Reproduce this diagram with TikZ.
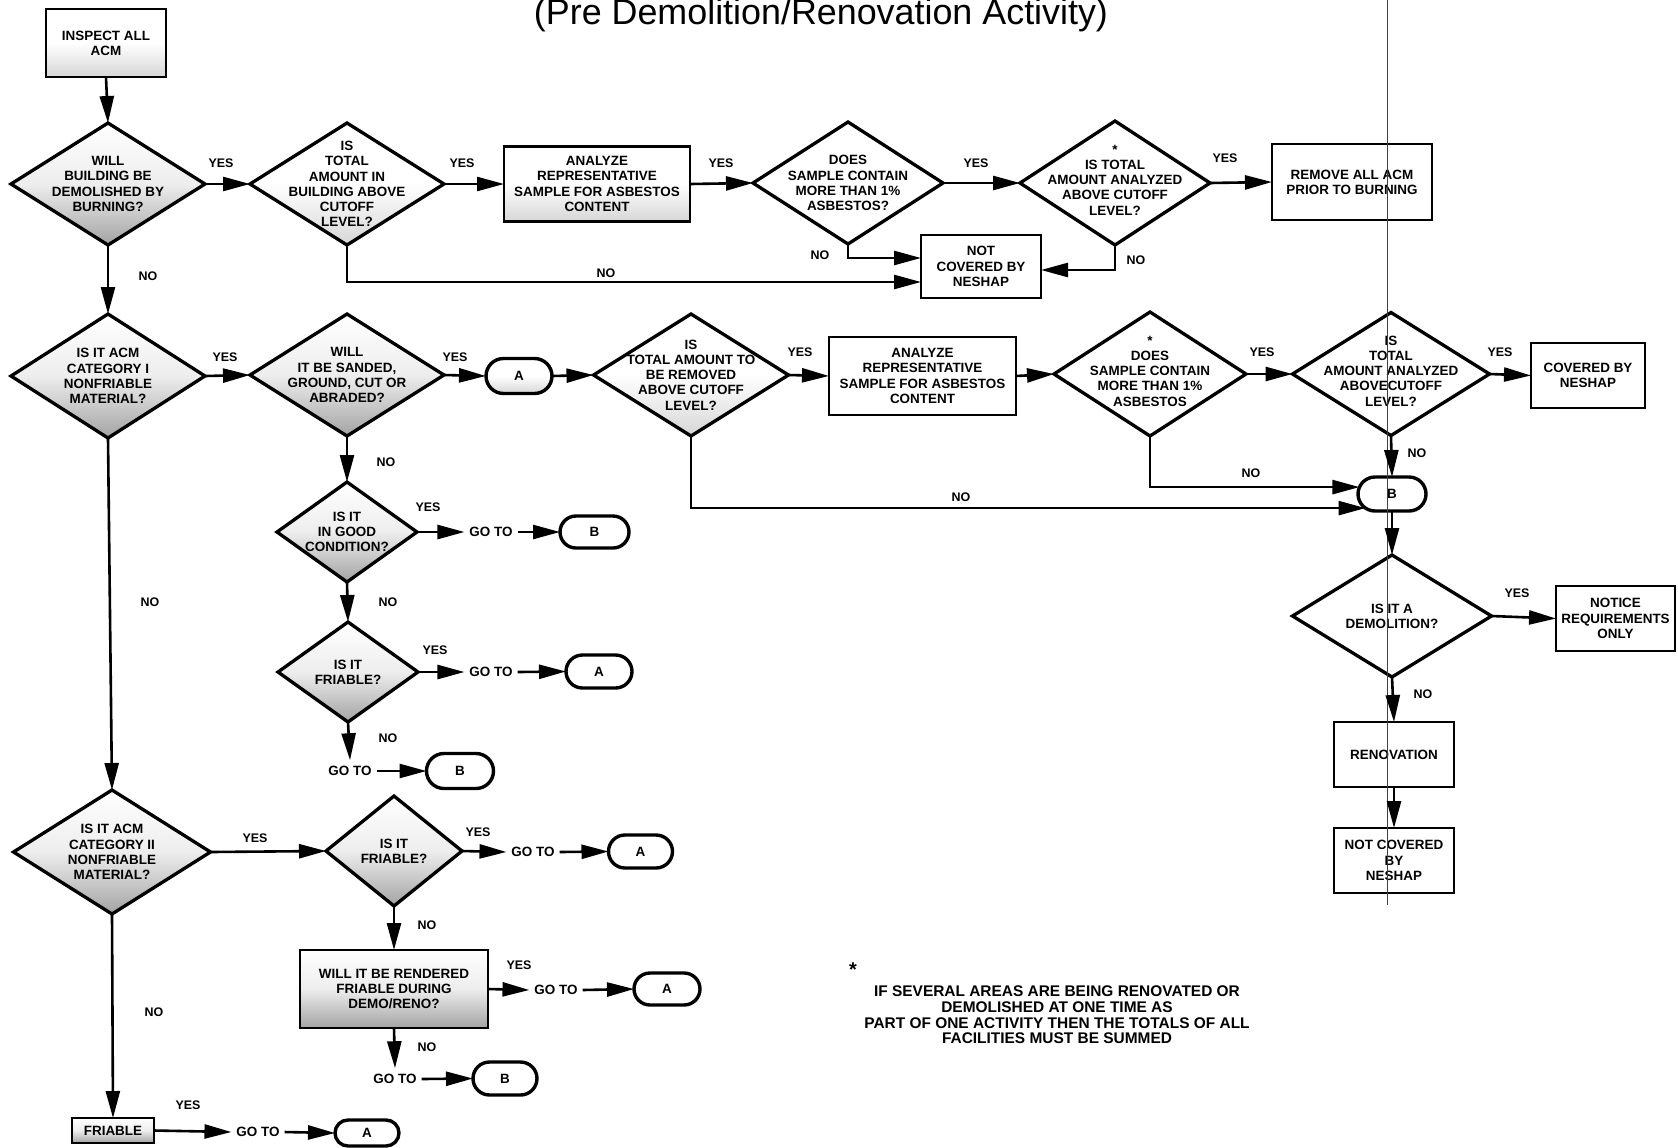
\documentclass[tikz,border=0pt]{standalone}
\usepackage{fontspec}
\setmainfont{Liberation Sans}
\usetikzlibrary{shapes.geometric,shapes.misc,arrows.meta}

\begin{document}
\begin{tikzpicture}[x=1bp,y=-1bp,
  every node/.style={font=\bfseries\fontsize{13.5}{15.3}\selectfont, inner sep=0pt, outer sep=0pt, align=center},
  dia/.style={draw, diamond, line width=3.3bp, line join=miter},
  box/.style={draw, rectangle, line width=2.8bp},
  term/.style={draw, rounded rectangle, line width=3.4bp, minimum width=66bp, minimum height=34bp},
  dtext/.style={font=\bfseries\fontsize{13.5}{15.3}\selectfont},
  goto/.style={inner xsep=5bp, inner ysep=6bp},
  lbl/.style={font=\bfseries\fontsize{12.5}{14}\selectfont},
  flow/.style={line width=2.6bp, -{Triangle[length=27bp,width=14bp]}},
  heavy/.style={top color=white, bottom color=black!36, middle color=black!7},
  light/.style={top color=white, bottom color=black!16, middle color=white},
]
\useasboundingbox (0,0) rectangle (1678,1147);

% title
\node[font=\mdseries\fontsize{36}{36}\selectfont, anchor=base] (title) at (821,24) {(Pre Demolition/Renovation Activity)};

% first row: demolition by burning
\node[box, light, minimum width=120bp, minimum height=68bp] (insp) at (106,43) {INSPECT ALL\\ACM};
\node[dia, heavy, minimum width=194bp, minimum height=122bp] (D1) at (108,184) {};
\node[dtext] (D1t) at (D1) {WILL\\BUILDING BE\\DEMOLISHED BY\\BURNING?};
\node[dia, light, minimum width=194bp, minimum height=122bp] (D2) at (347,184) {};
\node[dtext] (D2t) at (D2) {IS\\TOTAL\\AMOUNT IN\\BUILDING ABOVE\\CUTOFF\\LEVEL?};
\node[box, light, minimum width=186bp, minimum height=75bp] (AN1) at (597,184) {ANALYZE\\REPRESENTATIVE\\SAMPLE FOR ASBESTOS\\CONTENT};
\node[dia, minimum width=190bp, minimum height=122bp] (D3) at (848,183) {};
\node[dtext] (D3t) at (D3) {DOES\\SAMPLE CONTAIN\\MORE THAN 1\%\\ASBESTOS?};
\node[dia, minimum width=190bp, minimum height=124bp] (D4) at (1115,183) {};
\node[dtext] (D4t) at ([yshift=3bp]D4) {*\\IS TOTAL\\AMOUNT ANALYZED\\ABOVE CUTOFF\\LEVEL?};
\node[box, minimum width=160bp, minimum height=76bp] (REM) at (1352,182) {REMOVE ALL ACM\\PRIOR TO BURNING};
\node[box, minimum width=120bp, minimum height=63bp] (NC1) at (981,266.5) {NOT\\COVERED BY\\NESHAP};

% second row: category I nonfriable material
\node[dia, heavy, minimum width=194bp, minimum height=124bp] (D5) at (108,376) {};
\node[dtext] (D5t) at (D5) {IS IT ACM\\CATEGORY I\\NONFRIABLE\\MATERIAL?};
\node[dia, heavy, minimum width=194bp, minimum height=122bp] (D6) at (347,375) {};
\node[dtext] (D6t) at (D6) {WILL\\IT BE SANDED,\\GROUND, CUT OR\\ABRADED?};
\node[term, light, minimum width=66bp, minimum height=35bp] (A1) at (519,376) {A};
\node[dia, light, minimum width=195bp, minimum height=122bp] (D7) at (691,375) {};
\node[dtext] (D7t) at (D7) {IS\\TOTAL AMOUNT TO\\BE REMOVED\\ABOVE CUTOFF\\LEVEL?};
\node[box, minimum width=187bp, minimum height=78bp] (AN2) at (922.5,376) {ANALYZE\\REPRESENTATIVE\\SAMPLE FOR ASBESTOS\\CONTENT};
\node[dia, minimum width=192bp, minimum height=124bp] (D8) at (1150,374) {};
\node[dtext] (D8t) at ([yshift=3bp]D8) {*\\DOES\\SAMPLE CONTAIN\\MORE THAN 1\%\\ASBESTOS};
\node[dia, minimum width=197bp, minimum height=123bp] (D9) at (1391,374) {};
\node[dtext] (D9t) at ([yshift=3bp]D9) {IS\\TOTAL\\AMOUNT ANALYZED\\ABOVECUTOFF\\LEVEL?};
\node[box, minimum width=114bp, minimum height=65bp] (COV) at (1588,375.5) {COVERED BY\\NESHAP};

% right column: demolition or renovation
\node[term, minimum width=68bp, minimum height=34bp] (B2) at (1392,494) {B};
\node[dia, minimum width=199bp, minimum height=122bp] (D10) at (1392,616) {};
\node[dtext] (D10t) at (D10) {IS IT A\\DEMOLITION?};
\node[box, minimum width=119bp, minimum height=65bp] (NOT) at (1615.5,618.5) {NOTICE\\REQUIREMENTS\\ONLY};
\node[box, minimum width=120bp, minimum height=65bp] (REN) at (1394,754.5) {RENOVATION};
\node[box, minimum width=120bp, minimum height=65bp] (NC2) at (1394,860.5) {NOT COVERED\\BY\\NESHAP};

% sanded / ground branch
\node[dia, heavy, minimum width=140bp, minimum height=100bp] (D6b) at (347,532) {};
\node[dtext] (D6bt) at (D6b) {IS IT\\IN GOOD\\CONDITION?};
\node[goto] (GO1) at (491,532) {GO TO};
\node[term, minimum width=69bp, minimum height=32bp] (B1) at (594.5,532) {B};
\node[dia, heavy, minimum width=140bp, minimum height=100bp] (D6c) at (348,672) {};
\node[dtext] (D6ct) at (D6c) {IS IT\\FRIABLE?};
\node[goto] (GO2) at (491,672) {GO TO};
\node[term, minimum width=66bp, minimum height=33bp] (A2) at (599,671.5) {A};
\node[goto] (GO3) at (350,771) {GO TO};
\node[term, minimum width=67bp, minimum height=35bp] (B3) at (460,771) {B};

% category II branch
\node[dia, heavy, minimum width=197bp, minimum height=124bp] (D11) at (112,852) {};
\node[dtext] (D11t) at (D11) {IS IT ACM\\CATEGORY II\\NONFRIABLE\\MATERIAL?};
\node[dia, heavy, minimum width=136bp, minimum height=110bp] (D12) at (394,851) {};
\node[dtext] (D12t) at (D12) {IS IT\\FRIABLE?};
\node[goto] (GO4) at (533,852) {GO TO};
\node[term, minimum width=64bp, minimum height=33bp] (A3) at (640.5,851.5) {A};
\node[box, heavy, minimum width=188bp, minimum height=78bp] (WILL) at (394,989) {WILL IT BE RENDERED\\FRIABLE DURING\\DEMO/RENO?};
\node[goto] (GO5) at (556,990) {GO TO};
\node[term, minimum width=66bp, minimum height=32bp] (A4) at (667,989) {A};
\node[goto] (GO6) at (395,1079) {GO TO};
\node[term, minimum width=64bp, minimum height=33bp] (B4) at (505,1078.5) {B};
\node[box, heavy, minimum width=82bp, minimum height=25bp] (FRI) at (113,1130.5) {FRIABLE};
\node[goto] (GO7) at (258,1132) {GO TO};
\node[term, minimum width=64bp, minimum height=26bp] (A5) at (367,1133) {A};

% footnote
\node[font=\bfseries\fontsize{20}{20}\selectfont] (star) at (853,970) {*};
\node[font=\bfseries\fontsize{15.5}{15.7}\selectfont] (note) at (1057,1015) {IF SEVERAL AREAS ARE BEING RENOVATED OR\\DEMOLISHED AT ONE TIME AS\\PART OF ONE ACTIVITY THEN THE TOTALS OF ALL\\FACILITIES MUST BE SUMMED};

% thin vertical rule crossing the right column
\draw[line width=0.9bp, black!75] (1387,0) -- (1387,905);

% connectors, first row
\draw[flow] (insp.south) -- (D1.north);
\draw[flow] (D1.east) -- (D2.west);
\draw[flow] (D2.east) -- (AN1.west);
\draw[flow] (AN1.east) -- (D3.west);
\draw[flow] (D3.east) -- (D4.west);
\draw[flow] (D4.east) -- (REM.west);
\draw[flow] (D3.south) |- ([yshift=8.5bp]NC1.west);
\draw[flow] (D2.south) |- ([yshift=-15.5bp]NC1.west);
\draw[flow] (D4.south) |- ([yshift=-3.5bp]NC1.east);
\draw[flow] (D1.south) -- (D5.north);

% connectors, second row
\draw[flow] (D5.east) -- (D6.west);
\draw[flow] (D6.east) -- (A1.west);
\draw[flow] (A1.east) -- (D7.west);
\draw[flow] (D7.east) -- (AN2.west);
\draw[flow] (AN2.east) -- (D8.west);
\draw[flow] (D8.east) -- (D9.west);
\draw[flow] (D9.east) -- (COV.west);
\draw[flow] (D9.south) -- (B2.north);
\draw[flow] (D8.south) |- (B2.168);
\draw[flow] (D7.south) |- (B2.208);

% right column
\draw[flow] (B2.south) -- (D10.north);
\draw[flow] (D10.east) -- (NOT.west);
\draw[flow] (D10.south) -- (REN.north);
\draw[flow] (REN.south) -- (NC2.north);

% sanded / ground branch
\draw[flow] (D6.south) -- (D6b.north);
\draw[flow] (D6b.east) -- (GO1.west);
\draw[flow] (GO1.east) -- (B1.west);
\draw[flow] (D6b.south) -- (D6c.north);
\draw[flow] (D6c.east) -- (GO2.west);
\draw[flow] (GO2.east) -- (A2.west);
\draw[flow] (D6c.south) -- (GO3.north);
\draw[flow] (GO3.east) -- (B3.west);

% category II branch
\draw[flow] (D5.south) -- (D11.north);
\draw[flow] (D11.east) -- (D12.west);
\draw[flow] (D12.east) -- (GO4.west);
\draw[flow] (GO4.east) -- (A3.west);
\draw[flow] (D12.south) -- (WILL.north);
\draw[flow] (WILL.east) -- (GO5.west);
\draw[flow] (GO5.east) -- (A4.west);
\draw[flow] (WILL.south) -- (GO6.north);
\draw[flow] (GO6.east) -- (B4.west);
\draw[flow] (D11.south) -- (FRI.north);
\draw[flow] (FRI.east) -- (GO7.west);
\draw[flow] (GO7.east) -- (A5.west);

% YES / NO labels
\node[lbl] (y1) at (221,163) {YES};
\node[lbl] (y2) at (462,163) {YES};
\node[lbl] (y3) at (721,163) {YES};
\node[lbl] (y4) at (976,163) {YES};
\node[lbl] (y5) at (1225,158) {YES};
\node[lbl] (y6) at (225,357) {YES};
\node[lbl] (y7) at (455,357) {YES};
\node[lbl] (y8) at (800,352) {YES};
\node[lbl] (y9) at (1262,352) {YES};
\node[lbl] (y10) at (1500,352) {YES};
\node[lbl] (y11) at (428,507) {YES};
\node[lbl] (y12) at (435,650) {YES};
\node[lbl] (y13) at (255,838) {YES};
\node[lbl] (y14) at (478,832) {YES};
\node[lbl] (y15) at (519,965) {YES};
\node[lbl] (y16) at (188,1105) {YES};
\node[lbl] (y17) at (1517,593) {YES};
\node[lbl] (n1) at (148,276) {NO};
\node[lbl] (n2) at (606,273) {NO};
\node[lbl] (n3) at (820,255) {NO};
\node[lbl] (n4) at (1136,260) {NO};
\node[lbl] (n5) at (386,462) {NO};
\node[lbl] (n6) at (388,602) {NO};
\node[lbl] (n7) at (388,738) {NO};
\node[lbl] (n8) at (150,602) {NO};
\node[lbl] (n9) at (961,497) {NO};
\node[lbl] (n10) at (1251,473) {NO};
\node[lbl] (n11) at (1417,453) {NO};
\node[lbl] (n12) at (1423,694) {NO};
\node[lbl] (n13) at (427,925) {NO};
\node[lbl] (n14) at (427,1047) {NO};
\node[lbl] (n15) at (154,1012) {NO};
\end{tikzpicture}
\end{document}
